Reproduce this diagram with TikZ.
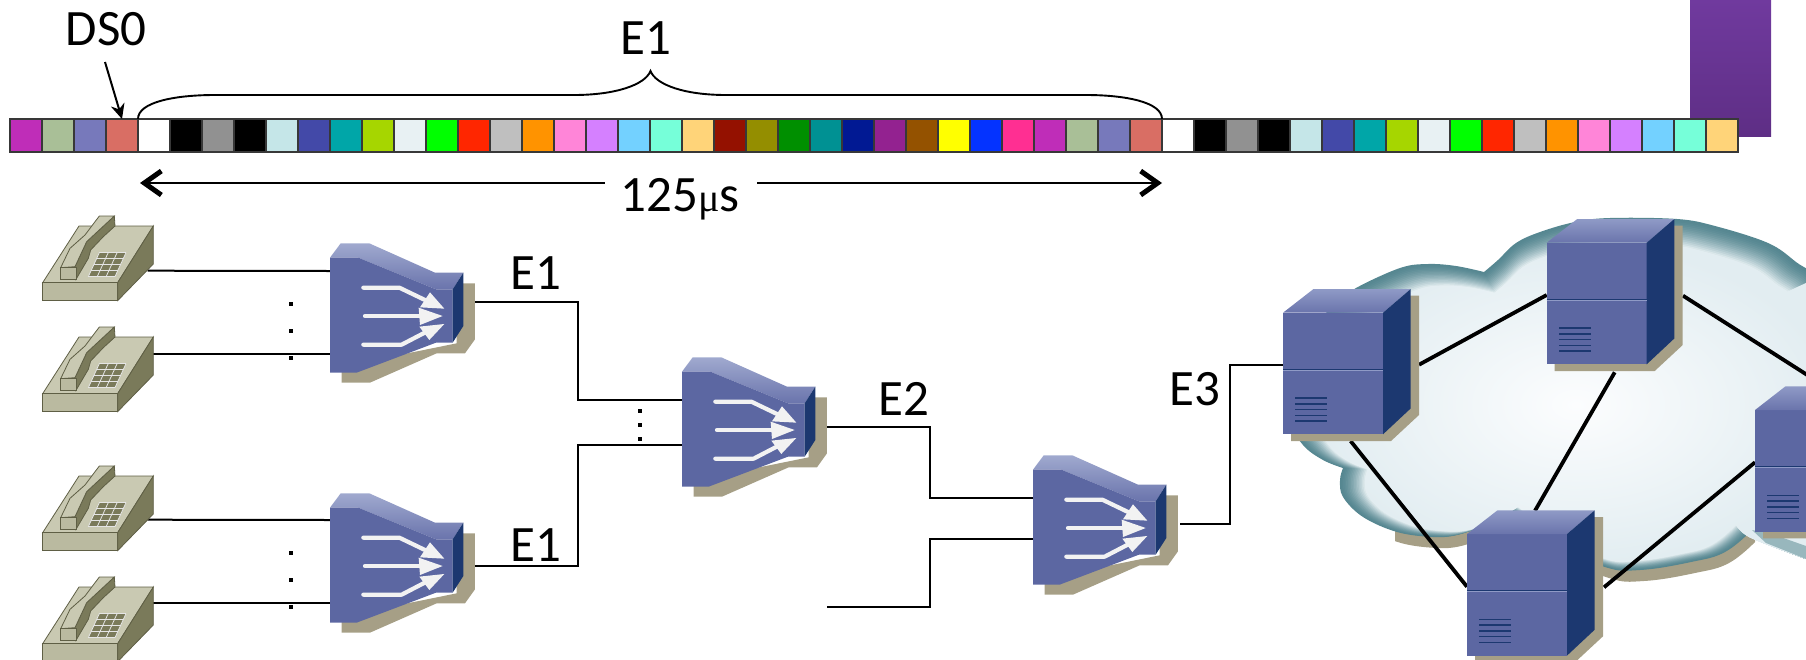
\documentclass[tikz,border=0pt]{standalone}
\usepackage{fontspec}
\setmainfont{Carlito}
\newfontfamily\mufont{Liberation Serif}
\usetikzlibrary{arrows.meta,calc}
\definecolor{tanshadow}{HTML}{A69F86}
\definecolor{devfront}{HTML}{5C67A2}
\definecolor{devside}{HTML}{1C3870}
\definecolor{devtopa}{HTML}{8F9AC6}
\definecolor{devtopb}{HTML}{6A74AC}
\definecolor{phtop}{HTML}{C9C9B2}
\definecolor{phfront}{HTML}{BABAA0}
\definecolor{phside}{HTML}{7A7A5A}
\definecolor{phline}{HTML}{5F5F45}
\definecolor{rimdark}{HTML}{568791}
\definecolor{rimlight}{HTML}{E8F1F4}
\definecolor{bodyout}{HTML}{E2EDF1}
\definecolor{bodyin}{HTML}{FCFDFE}
\definecolor{purpa}{HTML}{703A9E}
\definecolor{purpb}{HTML}{5E2E85}
\tikzset{
  lbl/.style={inner sep=0pt,font=\fontsize{51}{51}\selectfont},
  cell/.style={draw=black!78,line width=2.4pt,minimum width=32pt,minimum height=33pt,inner sep=0pt,outer sep=0pt,anchor=north west},
  wire/.style={draw=black,line width=2pt},
  link/.style={draw=black,line width=3.8pt},
  dotm/.style={fill=black,minimum size=4pt,inner sep=0pt,outer sep=0pt},
  spanarrow/.style={line width=2pt,{Straight Barb[length=17pt,width=24pt,line width=5pt]}-{Straight Barb[length=17pt,width=24pt,line width=5pt]}},
  whitearrow/.style={draw=white!95!black,line width=4.2pt,line cap=round,line join=round},
  vent/.style={draw=devside,line width=1.5pt},
}
\newcommand\muxicon[2]{%
 \begin{scope}[shift={(#1,#2)},x=.3333pt,y=-.3333pt]
  \fill[tanshadow] (95,488) -- (180,488) -- (380,400) -- (465,400) -- (495,358) -- (495,190) -- (440,190) -- (440,370) -- (95,440) -- cycle;
  \shade[top color=devtopa!85!white,bottom color=devtopb] (60,113) -- (92,70) -- (178,70) -- (375,158) -- (460,158) -- (428,208) -- (378,208) -- (145,113) -- cycle;
  \fill[devfront] (60,113) -- (145,113) -- (378,208) -- (428,208) -- (428,368) -- (378,368) -- (140,458) -- (60,458) -- cycle;
  \fill[devside] (428,208) -- (460,158) -- (460,318) -- (428,368) -- cycle;
  \draw[whitearrow] (160,203) -- (268,203) -- (345,240);
  \draw[whitearrow] (165,288) -- (330,288);
  \draw[whitearrow] (160,374) -- (275,374) -- (350,335);
  \fill[white!95!black] (360,217) -- (403,266) -- (330,262) -- cycle;
  \fill[white!95!black] (326,263) -- (398,288) -- (330,315) -- cycle;
  \fill[white!95!black] (358,360) -- (403,312) -- (328,320) -- cycle;
 \end{scope}}
\newcommand\phoneicon[2]{%
 \begin{scope}[shift={(#1,#2)},x=.3333pt,y=-.3333pt,draw=phline,line width=.8pt]
  \filldraw[fill=phtop] (68,248) -- (177,78) -- (400,78) -- (293,248) -- cycle;
  \filldraw[fill=phfront] (68,248) -- (293,248) -- (293,302) -- (68,302) -- cycle;
  \filldraw[fill=phside] (293,248) -- (400,78) -- (400,192) -- (293,302) -- cycle;
  \filldraw[fill=phside] (283,48) -- (285,78) -- (250,110) -- (212,150) -- (205,175) -- (168,238) -- (165,200) -- (200,125) -- cycle;
  \filldraw[fill=phtop] (122,203) -- (165,200) -- (200,125) -- (283,48) -- (238,48) -- (195,105) -- (150,145) -- cycle;
  \filldraw[fill=phfront] (122,203) -- (168,203) -- (168,238) -- (122,238) -- cycle;
  \fill[phside] (238,158) -- (318,158) -- (285,230) -- (205,230) -- cycle;
  \foreach \k in {0,1,2,3,4}{\draw[draw=white!90!black,line width=.8pt] ({238-33*\k/4},{158+72*\k/4}) -- ({318-33*\k/4},{158+72*\k/4});}
  \foreach \k in {0,1,2,3}{\draw[draw=white!90!black,line width=.8pt] ({238+80*\k/3},158) -- ({205+80*\k/3},230);}
 \end{scope}}
\newcommand\servericon[2]{%
 \begin{scope}[shift={(#1,#2)}]
  \fill[tanshadow] (8,110) -- (8,128.3) -- (108,128.3) -- (136,102.3) -- (136,-17) -- (120,-17) -- cycle;
  \fill[devfront] (0,0) rectangle (100,121.6);
  \shade[top color=devtopa,bottom color=devtopb] (0,0) -- (30.5,-23.7) -- (127.7,-23.7) -- (100,0) -- cycle;
  \fill[devside] (100,0) -- (127.7,-23.7) -- (127.7,95.7) -- (100,121.6) -- cycle;
  \draw[draw=devside,line width=1pt] (0,56.7) -- (100,56.7);
  \draw[draw=devtopa,line width=1pt] (0,57.8) -- (100,57.8);
  \foreach \v in {85.5,91.2,97,102.7,108.4}{\draw[vent] (12.3,\v) -- (43.8,\v);}
 \end{scope}}
\newcommand\cloudpath{%
  plot[smooth,tension=.6] coordinates {(1343,300) (1356,288) (1400,268) (1428,264) (1456,266) (1484,272)}
  -- plot[smooth,tension=.6] coordinates {(1484,272) (1498,260) (1516,243) (1540,232) (1575,222) (1610,218) (1677,219) (1715,226) (1768,243) (1796,262) (1820,283) (1850,350) (1860,450) (1850,575)}
  -- (1806,559) -- plot[smooth,tension=.6] coordinates {(1806,559) (1766,543) (1752,530)}
  -- plot[smooth,tension=.7] coordinates {(1752,530) (1725,552) (1691,562) (1640,570) (1605,567) (1560,545) (1510,510)}
  -- plot[smooth,tension=.6] coordinates {(1510,510) (1484,525) (1457,535) (1433,537) (1397,532) (1363,517) (1343,497) (1340,480) (1343,468)}
  -- plot[smooth,tension=.6] coordinates {(1343,468) (1323,460) (1303,445) (1290,420) (1295,380) (1310,330) (1343,300)}
  -- cycle}
\begin{document}
\begin{tikzpicture}[x=1pt,y=-1pt]
\useasboundingbox (0,0) rectangle (1806,659);
\begin{scope}
\clip (0,0) rectangle (1806,659);
% purple corner
\shade[top color=purpa,bottom color=purpb] (1690,0) rectangle (1771,136);
% frame cells
\foreach \c [count=\i from 0] in {BF2DB8,A9BF97,7779BB,D96E64,FFFFFF,000000,919191,000000,C5E6E8,4349A8,00A6A8,A6D600,E8F1F3,00FF00,FF2600,BFBFBF,FF9300,FF85D8,D580FF,73D1FF,76FFD9,FFD479,941100,948E00,008F00,009193,011993,932290,945200,FFFF00,0433FF,FF2F92,BF2DB8,A9BF97,7779BB,D96E64,FFFFFF,000000,919191,000000,C5E6E8,4349A8,00A6A8,A6D600,E8F1F3,00FF00,FF2600,BFBFBF,FF9300,FF85D8,D580FF,73D1FF,76FFD9,FFD479}{
  \definecolor{cellc}{HTML}{\c}
  \node[cell,fill=cellc] (c\i) at ({10+32*\i},119) {};
}
% labels on the frame
\node[lbl] (ds0) at (106,29) {DS0};
\node[lbl] (e1top) at (646,38) {E1};
\coordinate (ds0tail) at (105,62);
\draw[line width=2pt,-{Stealth[length=15pt,width=14pt]}] (ds0tail) -- (c3.north);
\coordinate (bracetip) at (650.5,71);
\draw[line width=1.9pt] (c4.north west) .. controls (138,102) and (175,95) .. (215,95) -- (574,95) .. controls (615,95) and (645,85) .. (bracetip) .. controls (656,85) and (685,95) .. (726,95) -- (1086,95) .. controls (1125,95) and (1162,102) .. (c35.north east);
\coordinate (spanl) at (140,183);
\coordinate (spanr) at (1162,183);
\draw[spanarrow] (spanl) -- (spanr);
\node[fill=white,inner sep=0pt,minimum width=152pt,minimum height=34pt] (spanbox) at (681,198) {};
\node[lbl] (t125) at (680,199) {125{\mufont\fontsize{40}{40}\selectfont μ}s};
% cloud
\begin{scope}
  \clip (1395,500) rectangle (1755,600);
  \fill[tanshadow,shift={(4,11)}] \cloudpath;
\end{scope}
\foreach \s in {0,1,...,16}{
  \pgfmathsetmacro\t{\s/16}
  \pgfmathsetmacro\pc{100*pow(\t,1.6)}
  \pgfmathsetmacro\sc{1-.10*\t}
  \fill[rimlight!\pc!rimdark,shift={(1590,420)},shift={(0,6*\t)},scale=\sc,shift={(-1590,-420)}] \cloudpath;
}
\shade[inner color=bodyin,outer color=bodyout,shift={(1590,420)},shift={(0,6)},scale=.90,shift={(-1590,-420)}] \cloudpath;
\fill[bodyout] (1769,300) -- (1806,283) -- (1810,335) -- cycle;
\fill[rimdark!55!rimlight] (1752,530) -- (1766,543) -- (1806,559) -- (1806,546) -- (1772,534) -- cycle;
% named points of the connectors
\coordinate (p1r) at (147.7,270.7); \coordinate (p2r) at (153,354);
\coordinate (p3r) at (147.7,519.7); \coordinate (p4r) at (153,603);
\coordinate (m1l) at (330,271); \coordinate (m1l2) at (330,354);
\coordinate (m4l) at (330,520); \coordinate (m4l2) at (330,603);
\coordinate (m1o) at (475,301.7); \coordinate (m4o) at (475,565.6);
\coordinate (m2a) at (682,400); \coordinate (m2b) at (682,444.7);
\coordinate (j1) at (578,400); \coordinate (j2) at (578,444.7);
\coordinate (m2o) at (827,427); \coordinate (j3) at (930,497.7);
\coordinate (m3a) at (1033,497.7); \coordinate (m3b) at (1033,539);
\coordinate (free) at (827,607); \coordinate (j4) at (930,539);
\coordinate (m3o) at (1180,524); \coordinate (j5) at (1230,365);
\coordinate (sAl) at (1283,365);
\draw[wire] (p1r) -- (m1l);
\draw[wire] (p2r) -- (m1l2);
\draw[wire] (p3r) -- (m4l);
\draw[wire] (p4r) -- (m4l2);
\draw[wire] (m1o) -| (j1) -- (m2a);
\draw[wire] (m4o) -| (j2) -- (m2b);
\draw[wire] (m2o) -| (j3) -- (m3a);
\draw[wire] (free) -| (j4) -- (m3b);
\draw[wire] (m3o) -| (j5) -- (sAl);
% dots
\foreach \n/\x/\y in {a/290.7/304,b/290.7/331,c/290.7/358,d/290.7/553,e/290.7/580,f/290.7/607,g/640/411,h/640/425,i/640/439}{
  \node[dotm] (dot\n) at (\x,\y) {};
}
% devices
\phoneicon{20}{200}
\phoneicon{20}{311}
\phoneicon{20}{450}
\phoneicon{20}{561}
\muxicon{310}{220}
\muxicon{310}{470}
\muxicon{662}{334}
\muxicon{1013}{432}
% links in the cloud
\coordinate (lab) at (1419,364.7); \coordinate (lba) at (1546.7,295);
\coordinate (lbd) at (1683,295.7); \coordinate (ldb) at (1812,378);
\coordinate (lbc) at (1614.7,372.3); \coordinate (lcb) at (1535,510.7);
\coordinate (lac) at (1350.6,441); \coordinate (lca) at (1467,586.7);
\coordinate (lcd) at (1604,587.3); \coordinate (ldc) at (1755,462.3);
\draw[link] (lab) -- (lba);
\draw[link] (lbd) -- (ldb);
\draw[link] (lbc) -- (lcb);
\draw[link] (lac) -- (lca);
\draw[link] (lcd) -- (ldc);
\servericon{1283}{312.7}
\servericon{1546.7}{242.7}
\servericon{1755}{410}
\servericon{1467}{534}
% text
\node[lbl] (e1a) at (536,273) {E1};
\node[lbl] (e1b) at (536,545) {E1};
\node[lbl] (e2) at (904,399) {E2};
\node[lbl] (e3) at (1195,389) {E3};
\end{scope}
\end{tikzpicture}
\end{document}
